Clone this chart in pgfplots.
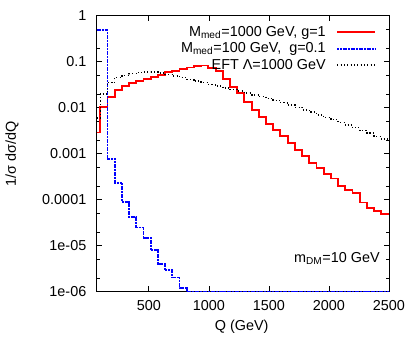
\documentclass[border=0pt]{standalone}
\usepackage{fontspec}
\setmainfont{Liberation Sans}
\usepackage{pgfplots}
\pgfplotsset{compat=1.18}
\usepackage{pgfplotstable}

\definecolor{gpred}{RGB}{255,0,0}
\definecolor{gpblue}{RGB}{0,0,255}

% bin start Q, then 1/sigma dsigma/dQ for the three samples
\pgfplotstableread{
Q     red       blue      eft
66    0.0029    0.5       0.006
96    0.0102    0.5       0.02
156   0.0174    0.00076   0.035
216   0.0243    0.000234  0.045
276   0.0296    9.1e-5    0.05
336   0.034     4.2e-5    0.055
396   0.038     2.5e-5    0.058
456   0.043     1.5e-5    0.06
516   0.047     8.1e-6    0.06
576   0.051     4.1e-6    0.057
636   0.059     2.95e-6   0.053
696   0.063     2.05e-6   0.049
756   0.069     1.2e-6    0.045
816   0.075     1e-6      0.041
876   0.082     1e-6      0.038
936   0.083     1e-6      0.035
996   0.074     1e-6      0.032
1056  0.062     1e-6      0.030
1116  0.042     1e-6      0.027
1176  0.028     1e-6      0.025
1236  0.0206    1e-6      0.023
1296  0.0135    1e-6      0.021
1356  0.0091    1e-6      0.019
1416  0.0064    1e-6      0.0175
1476  0.0045    1e-6      0.016
1536  0.0033    1e-6      0.0145
1596  0.0024    1e-6      0.013
1656  0.00168   1e-6      0.0115
1716  0.0012    1e-6      0.0102
1776  0.00091   1e-6      0.009
1836  0.00064   1e-6      0.008
1896  0.0005    1e-6      0.007
1956  0.00037   1e-6      0.0062
2016  0.00029   1e-6      0.0055
2076  0.0002    1e-6      0.0048
2136  0.000163  1e-6      0.0042
2196  0.000138  1e-6      0.0037
2256  0.000087  1e-6      0.0032
2316  0.000065  1e-6      0.0028
2376  0.000058  1e-6      0.0024
2436  0.00005   1e-6      0.0021
2500  0.00005   1e-6      0.0021
}\histdata

\begin{document}
\fontsize{10.8}{12}\selectfont
\begin{tikzpicture}
\begin{axis}[
    scale only axis,
    width=219.2pt, height=207pt,
    ymode=log,
    xmin=66, xmax=2500,
    ymin=1e-6, ymax=1,
    xtick={500,1000,1500,2000,2500},
    xticklabels={500,1000,1500,2000,2500},
    ytick={1e-6,1e-5,1e-4,1e-3,1e-2,1e-1,1},
    yticklabels={1e-06,1e-05,0.0001,0.001,0.01,0.1,1},
    minor ytick={2e-6,5e-6,2e-5,5e-5,2e-4,5e-4,2e-3,5e-3,2e-2,5e-2,2e-1,5e-1},
    tick align=inside,
    major tick length=4pt, minor tick length=2.5pt,
    tick style={black, line width=0.5pt},
    axis line style={black, line width=0.7pt},
    ticklabel style={font=\fontsize{10.8}{12}\selectfont},
    /pgf/number format/assume math mode=true,
    xticklabel style={yshift=-3pt},
    yticklabel style={xshift=-4pt},
    xlabel={Q (GeV)},
    ylabel={1/σ dσ/dQ},
    xlabel style={at={(axis description cs:0.496,-0.127)}, anchor=center},
    ylabel style={at={(axis description cs:-0.29,0.5)}, anchor=center},
    legend plot pos=right,
    legend cell align=right,
    legend style={draw=none, fill=none, at={(axis description cs:0.962,0.978)},
        anchor=north east, font=\fontsize{10.8}{12}\selectfont,
        row sep=-0.8pt, inner sep=1pt,
        /tikz/every odd column/.append style={column sep=6pt}},
    legend image code/.code={\draw[#1] (0pt,0pt) -- (28.5pt,0pt);},
]
\addplot[const plot mark left, color=gpred, line width=1.4pt] table[x=Q, y=red] {\histdata};
\addlegendentry{M\textsubscript{med}=1000 GeV, g=1}
\addplot[const plot mark left, color=gpblue, line width=1.4pt, dash pattern=on 1.5pt off 0.5pt] table[x=Q, y=blue] {\histdata};
\addlegendentry{M\textsubscript{med}=100 GeV,\ \ g=0.1}
\addplot[const plot mark left, color=black, line width=1.1pt, dash pattern=on 0.8pt off 1.7pt] table[x=Q, y=eft] {\histdata};
\addlegendentry{EFT Λ=1000 GeV}
\node[anchor=east, inner sep=0pt] at (rel axis cs:0.969,0.122) {m\textsubscript{DM}=10 GeV};
\end{axis}
\pgfresetboundingbox
\path[use as bounding box] ([shift={(-72.5pt,-34.7pt)}]current axis.south west)
    rectangle ([shift={(19.5pt,11.8pt)}]current axis.north east);
\end{tikzpicture}
\end{document}
